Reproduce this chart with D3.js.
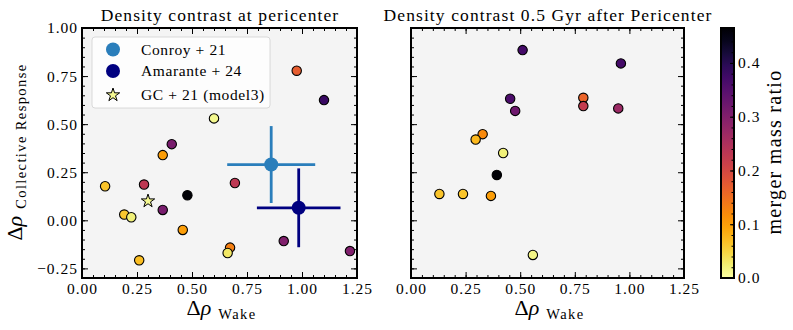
<!DOCTYPE html>
<html>
<head>
<meta charset="utf-8">
<script src="https://cdn.jsdelivr.net/npm/d3@7"></script>
<style>
  html, body { margin: 0; padding: 0; background: #fff; }
  svg { display: block; font-family: "Liberation Serif", "DejaVu Serif", serif; }
</style>
</head>
<body>
<svg id="chart" width="793" height="330"></svg>
<script>
// data
const leftWake  = [0.976, 1.10, 0.60, 0.408, 0.367, 0.105, 0.282, 0.695, 0.479, 0.192, 0.224, 0.367, 0.458, 0.917, 0.673, 0.662, 1.218, 0.26];
const leftColl  = [0.778, 0.625, 0.53, 0.396, 0.339, 0.177, 0.186, 0.194, 0.13, 0.03, 0.016, 0.054, -0.05, -0.108, -0.142, -0.17, -0.16, -0.208];
const leftRatio = [0.17, 0.38, 0.012, 0.31, 0.10, 0.065, 0.23, 0.23, 0.46, 0.06, 0.02, 0.31, 0.10, 0.30, 0.13, 0.03, 0.30, 0.07];

const rightWake  = [0.511, 0.961, 0.454, 0.477, 0.789, 0.789, 0.949, 0.328, 0.296, 0.422, 0.393, 0.13, 0.238, 0.366, 0.558];
const rightColl  = [0.885, 0.816, 0.632, 0.569, 0.637, 0.594, 0.582, 0.448, 0.42, 0.35, 0.236, 0.137, 0.137, 0.127, -0.18];
const rightRatio = [0.37, 0.37, 0.36, 0.32, 0.16, 0.22, 0.27, 0.12, 0.075, 0.02, 0.46, 0.065, 0.065, 0.10, 0.015];

const gcWake = [0.30], gcColl = [0.10], gcRatio = [0.01];

const obsNames   = ["Conroy + 21", "Amarante + 24"];
const obsColors  = ["#2a7ebb", "#000080"];
const obsWake    = [0.86, 0.985];
const obsColl    = [0.29, 0.065];
const obsWakeErr = [0.20, 0.19];
const obsCollErr = [0.20, 0.205];

const xTicks  = [0, 0.25, 0.5, 0.75, 1.0, 1.25];
const yTicks  = [-0.25, 0, 0.25, 0.5, 0.75, 1.0];
const cbTicks = [0, 0.1, 0.2, 0.3, 0.4];
const ratioMax = 0.465;

const titles = ["Density contrast at pericenter", "Density contrast 0.5 Gyr after Pericenter"];

const svg = d3.select("#chart");
const plotTop = 28, plotBottom = 278;
const panels = [{ x0: 82, x1: 357 }, { x0: 411, x1: 684 }];

const color = v => d3.interpolateInferno(1 - v / ratioMax);
const fmt = d3.format(".2f");
const minorX = d3.range(0, 1.2501, 0.05);
const minorY = d3.range(-0.3, 1.0001, 0.05);

// "Δρ  word" with the word set lower and smaller, like a subscript
function deltaRho(sel, word, shift) {
  sel.append("tspan").attr("font-size", 22).text("Δ");
  sel.append("tspan").attr("font-size", 22).attr("font-style", "italic").text("ρ");
  sel.append("tspan").attr("font-size", 14.5).attr("letter-spacing", 1.4)
    .attr("dx", 7).attr("dy", shift).text(word);
}

panels.forEach((p, i) => {
  const x = d3.scaleLinear().domain([0, 1.25]).range([p.x0, p.x1]);
  const y = d3.scaleLinear().domain([-0.3, 1.0]).range([plotBottom, plotTop]);
  const g = svg.append("g");

  g.append("rect").attr("x", p.x0).attr("y", plotTop)
    .attr("width", p.x1 - p.x0).attr("height", plotBottom - plotTop).attr("fill", "#f4f4f4");

  // ticks, pointing in, on all four sides
  const tickLines = (axis, tr) => g.append("g").attr("transform", tr).call(axis)
    .call(s => s.select(".domain").remove())
    .call(s => s.selectAll(".tick line").attr("stroke", "#000").attr("stroke-width", 1));

  tickLines(d3.axisBottom(x).tickValues(minorX).tickSize(-3).tickFormat(""), `translate(0,${plotBottom})`);
  tickLines(d3.axisTop(x).tickValues(minorX).tickSize(-3).tickFormat(""), `translate(0,${plotTop})`);
  tickLines(d3.axisLeft(y).tickValues(minorY).tickSize(-3).tickFormat(""), `translate(${p.x0},0)`);
  tickLines(d3.axisRight(y).tickValues(minorY).tickSize(-3).tickFormat(""), `translate(${p.x1},0)`);
  tickLines(d3.axisTop(x).tickValues(xTicks).tickSize(-6).tickFormat(""), `translate(0,${plotTop})`);
  tickLines(d3.axisRight(y).tickValues(yTicks).tickSize(-6).tickFormat(""), `translate(${p.x1},0)`);

  const xb = tickLines(d3.axisBottom(x).tickValues(xTicks).tickSize(-6).tickPadding(5).tickFormat(fmt), `translate(0,${plotBottom})`);
  xb.selectAll("text").attr("font-size", 15.5).attr("letter-spacing", 1).attr("font-family", "Liberation Serif").attr("fill", "#000");

  const yl = tickLines(d3.axisLeft(y).tickValues(yTicks).tickSize(-6).tickPadding(4)
    .tickFormat(i === 0 ? (d => (d < 0 ? "\u2212" : "") + fmt(Math.abs(d))) : ""), `translate(${p.x0},0)`);
  yl.selectAll("text").attr("font-size", 15.5).attr("letter-spacing", 1).attr("font-family", "Liberation Serif").attr("fill", "#000");

  // observations with error bars (left panel only)
  if (i === 0) {
    obsNames.forEach((n, k) => {
      const eg = g.append("g").attr("stroke", obsColors[k]).attr("stroke-width", 2.8);
      eg.append("line").attr("x1", x(obsWake[k] - obsWakeErr[k])).attr("x2", x(obsWake[k] + obsWakeErr[k]))
        .attr("y1", y(obsColl[k])).attr("y2", y(obsColl[k]));
      eg.append("line").attr("x1", x(obsWake[k])).attr("x2", x(obsWake[k]))
        .attr("y1", y(obsColl[k] - obsCollErr[k])).attr("y2", y(obsColl[k] + obsCollErr[k]));
      g.append("circle").attr("cx", x(obsWake[k])).attr("cy", y(obsColl[k])).attr("r", 7)
        .attr("fill", obsColors[k]);
    });
  }

  const wake = i === 0 ? leftWake : rightWake;
  const coll = i === 0 ? leftColl : rightColl;
  const ratio = i === 0 ? leftRatio : rightRatio;
  g.append("g").selectAll("circle").data(d3.range(wake.length)).join("circle")
    .attr("cx", k => x(wake[k])).attr("cy", k => y(coll[k])).attr("r", 4.7)
    .attr("fill", k => color(ratio[k])).attr("stroke", "#000").attr("stroke-width", 1.1);

  if (i === 0) {
    const star = d3.symbol().type(d3.symbolStar).size(55);
    g.append("g").selectAll("path").data(d3.range(gcWake.length)).join("path")
      .attr("d", star).attr("transform", k => `translate(${x(gcWake[k])},${y(gcColl[k])})`)
      .attr("fill", k => color(gcRatio[k])).attr("stroke", "#000").attr("stroke-width", 1);
  }

  // frame
  g.append("rect").attr("x", p.x0).attr("y", plotTop)
    .attr("width", p.x1 - p.x0).attr("height", plotBottom - plotTop)
    .attr("fill", "none").attr("stroke", "#000").attr("stroke-width", 2);

  g.append("text").attr("x", (p.x0 + p.x1) / 2 + 0.5).attr("y", 21).attr("text-anchor", "middle")
    .attr("font-size", 17.5).attr("letter-spacing", 1.1).text(titles[i]);

  g.append("text").attr("x", (p.x0 + p.x1) / 2 + 2).attr("y", 315).attr("text-anchor", "middle")
    .call(deltaRho, "Wake", 4);

  if (i === 0) {
    g.append("text").attr("transform", `translate(22,152) rotate(-90)`).attr("text-anchor", "middle")
      .call(deltaRho, "Collective Response", 4);

    // legend
    const lg = g.append("g");
    lg.append("rect").attr("x", 92).attr("y", 37).attr("width", 178).attr("height", 71).attr("rx", 3)
      .attr("fill", "#fff").attr("fill-opacity", 0.8).attr("stroke", "#d0d0d0").attr("stroke-width", 0.8);
    const ly = [49.5, 71, 95];
    obsNames.forEach((n, k) => {
      lg.append("circle").attr("cx", 113).attr("cy", ly[k]).attr("r", 7).attr("fill", obsColors[k]);
      lg.append("text").attr("x", 141).attr("y", ly[k] + 5).attr("font-size", 15.5)
        .attr("letter-spacing", 0.6).text(n);
    });
    lg.append("path").attr("d", d3.symbol().type(d3.symbolStar).size(55))
      .attr("transform", `translate(113,${ly[2]})`).attr("fill", color(gcRatio[0]))
      .attr("stroke", "#000").attr("stroke-width", 1);
    lg.append("text").attr("x", 141).attr("y", ly[2] + 5).attr("font-size", 15.5)
      .attr("letter-spacing", 0.6).text("GC + 21 (model3)");
  }
});

// colorbar
const cb = { x0: 721, x1: 734 };
const cy = d3.scaleLinear().domain([0, ratioMax]).range([plotBottom, plotTop]);
const defs = svg.append("defs");
const grad = defs.append("linearGradient").attr("id", "cbgrad").attr("x1", 0).attr("y1", 1).attr("x2", 0).attr("y2", 0);
d3.range(0, 1.0001, 0.05).forEach(t => {
  grad.append("stop").attr("offset", t).attr("stop-color", color(t * ratioMax));
});
svg.append("rect").attr("x", cb.x0).attr("y", plotTop).attr("width", cb.x1 - cb.x0).attr("height", plotBottom - plotTop)
  .attr("fill", "url(#cbgrad)");
const cbg = svg.append("g").attr("transform", `translate(${cb.x1},0)`)
  .call(d3.axisRight(cy).tickValues(d3.range(0, 0.4601, 0.02)).tickSize(-2.5).tickFormat(""));
cbg.select(".domain").remove();
const cbm = svg.append("g").attr("transform", `translate(${cb.x1},0)`)
  .call(d3.axisRight(cy).tickValues(cbTicks).tickSize(-4).tickPadding(4).tickFormat(d3.format(".1f")));
cbm.select(".domain").remove();
cbm.selectAll("text").attr("font-size", 15.5).attr("letter-spacing", 1).attr("font-family", "Liberation Serif").attr("fill", "#000");
svg.append("rect").attr("x", cb.x0).attr("y", plotTop).attr("width", cb.x1 - cb.x0).attr("height", plotBottom - plotTop)
  .attr("fill", "none").attr("stroke", "#000").attr("stroke-width", 2);
svg.append("text").attr("transform", "translate(781,152) rotate(-90)").attr("text-anchor", "middle")
  .attr("font-size", 20).attr("letter-spacing", 1.3).text("merger mass ratio");
</script>
</body>
</html>
